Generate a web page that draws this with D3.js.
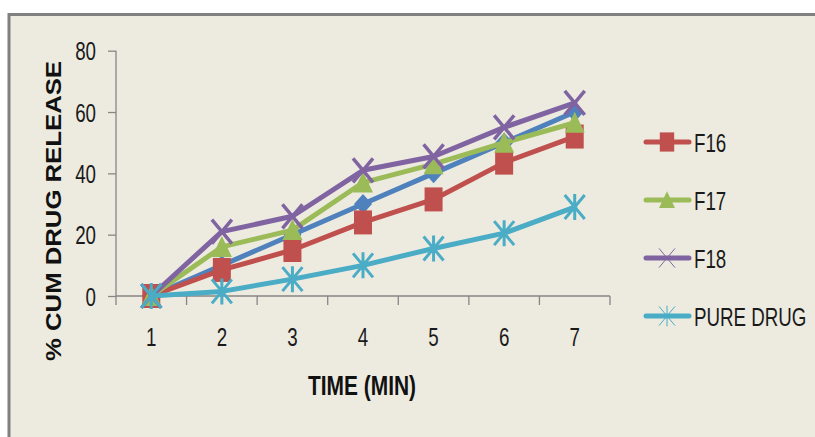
<!DOCTYPE html>
<html>
<head>
<meta charset="utf-8">
<script src="https://cdn.jsdelivr.net/npm/d3@7"></script>
<style>
  html, body { margin: 0; padding: 0; background: #ffffff; }
  svg { display: block; }
  text { font-family: "Liberation Sans", Arial, sans-serif; }
</style>
</head>
<body>
<svg id="chart" width="815" height="437"></svg>
<script>
// Dissolution time points (minutes)
const timePoints = ["1", "2", "3", "4", "5", "6", "7"];
const yTicks = [0, 20, 40, 60, 80];

// Cumulative % drug release per formulation
const f15 = [0, 10, 20, 30, 40, 50, 60];
const f16 = [0, 8.5, 15, 24, 31.5, 43.5, 52];
const f17 = [0, 16, 21.5, 37, 43, 50, 56.5];
const f18 = [0, 21, 26, 41, 45.5, 55, 63];
const pureDrug = [0, 1.5, 5.5, 10, 15.5, 20.5, 29];

const seriesNames = ["F15", "F16", "F17", "F18", "PURE DRUG"];
const legendNames = ["F16", "F17", "F18", "PURE DRUG"];

const series = [
  { name: seriesNames[0], values: f15, color: "#4f81bd", marker: "diamond" },
  { name: seriesNames[1], values: f16, color: "#c0504d", marker: "square" },
  { name: seriesNames[2], values: f17, color: "#9bbb59", marker: "triangle" },
  { name: seriesNames[3], values: f18, color: "#8064a2", marker: "x" },
  { name: seriesNames[4], values: pureDrug, color: "#4bacc6", marker: "star" }
];

// Condensed look for labels: horizontally squeezed glyphs
const SQ = 0.75;
function narrow(sel, px, py) {
  return sel.attr("font-size", 25).attr("fill", "#1a1a1a")
    .attr("transform", `translate(${px},${py}) scale(${SQ},1)`);
}

const svg = d3.select("#chart");

// Chart area with frame on top and left
svg.append("rect").attr("x", 8).attr("y", 14).attr("width", 807).attr("height", 423)
  .attr("fill", "#edebe0");
svg.append("path").attr("d", "M9,437 V14.5 H815")
  .attr("fill", "none").attr("stroke", "#808080").attr("stroke-width", 3);

const x = d3.scaleBand().domain(timePoints).range([116, 610]);
const y = d3.scaleLinear().domain([0, 80]).range([296, 50.7]);

const axisColor = "#868686";

// Y axis
const yAxis = svg.append("g").attr("transform", "translate(116,0)")
  .call(d3.axisLeft(y).tickValues(yTicks).tickSize(8).tickPadding(12));
yAxis.select(".domain").attr("stroke", axisColor).attr("stroke-width", 1.3).attr("d", `M0,${y(80)} V${y(0)}`);
yAxis.selectAll(".tick line").attr("stroke", axisColor).attr("stroke-width", 1.3);
yAxis.selectAll(".tick text").each(function () {
  const t = d3.select(this);
  t.attr("x", null).attr("dy", null).attr("text-anchor", "end");
  narrow(t, -20, 9);
});

// X axis with ticks at category boundaries
const xAxisG = svg.append("g").attr("transform", `translate(0,${y(0)})`);
xAxisG.append("line").attr("x1", x.range()[0]).attr("x2", x.range()[1])
  .attr("stroke", axisColor).attr("stroke-width", 1.3);
const bounds = timePoints.map(d => x(d)).concat([x.range()[1]]);
xAxisG.selectAll("line.tk").data(bounds).join("line").attr("class", "tk")
  .attr("x1", d => d).attr("x2", d => d).attr("y1", 0).attr("y2", 9)
  .attr("stroke", axisColor).attr("stroke-width", 1.3);
xAxisG.selectAll("text").data(timePoints).join("text")
  .attr("text-anchor", "middle")
  .each(function (d) { narrow(d3.select(this), x(d) + x.bandwidth() / 2, 50); })
  .text(d => d);

// Axis titles
svg.append("text")
  .attr("x", 362).attr("y", 395).attr("text-anchor", "middle")
  .attr("font-size", 28).attr("font-weight", "bold").attr("fill", "#111")
  .attr("textLength", 108).attr("lengthAdjust", "spacingAndGlyphs")
  .text("TIME (MIN)");

svg.append("text")
  .attr("transform", "translate(61,211) rotate(-90)")
  .attr("text-anchor", "middle")
  .attr("font-size", 22).attr("font-weight", "bold").attr("fill", "#111")
  .attr("textLength", 300).attr("lengthAdjust", "spacingAndGlyphs")
  .text("% CUM DRUG RELEASE");

// Marker drawing
function drawMarker(g, type, color, big) {
  const s = big ? 1 : 0.8;
  if (type === "square") {
    g.append("rect").attr("x", -9 * s).attr("y", -12 * s).attr("width", 18 * s).attr("height", 24 * s)
      .attr("fill", color);
  } else if (type === "diamond") {
    g.append("path").attr("d", `M0,${-10 * s} L${9 * s},0 L0,${10 * s} L${-9 * s},0Z`).attr("fill", color);
  } else if (type === "triangle") {
    g.append("path").attr("d", `M0,${-11 * s} L${10 * s},${10 * s} L${-10 * s},${10 * s}Z`).attr("fill", color);
  } else if (type === "x") {
    const w = big ? 3.5 : 1;
    g.append("path").attr("d", `M${-10 * s},${-12 * s} L${10 * s},${12 * s} M${10 * s},${-12 * s} L${-10 * s},${12 * s}`)
      .attr("stroke", color).attr("stroke-width", w).attr("fill", "none");
  } else if (type === "star") {
    const w = big ? 3 : 1;
    g.append("path").attr("d", `M${-10 * s},${-12 * s} L${10 * s},${12 * s} M${10 * s},${-12 * s} L${-10 * s},${12 * s} M0,${-13 * s} V${13 * s}`)
      .attr("stroke", color).attr("stroke-width", w).attr("fill", "none");
  }
}

const line = d3.line()
  .x((d, i) => x(timePoints[i]) + x.bandwidth() / 2)
  .y(d => y(d));

series.forEach(s => {
  const g = svg.append("g");
  g.append("path").datum(s.values).attr("d", line)
    .attr("fill", "none").attr("stroke", s.color).attr("stroke-width", 5)
    .attr("stroke-linejoin", "round").attr("stroke-linecap", "round");
  s.values.forEach((v, i) => {
    const m = g.append("g")
      .attr("transform", `translate(${x(timePoints[i]) + x.bandwidth() / 2},${y(v)})`);
    drawMarker(m, s.marker, s.color, true);
  });
});

// Legend
const legend = svg.append("g");
legendNames.forEach((name, i) => {
  const s = series.find(d => d.name === name);
  const cy = 142 + i * 58;
  const g = legend.append("g");
  g.append("line").attr("x1", 646).attr("x2", 689).attr("y1", cy).attr("y2", cy)
    .attr("stroke", s.color).attr("stroke-width", 5).attr("stroke-linecap", "round");
  drawMarker(g.append("g").attr("transform", `translate(667,${cy})`), s.marker, s.color, false);
  narrow(g.append("text"), 694, cy + 9.5).text(name);
});
</script>
</body>
</html>
